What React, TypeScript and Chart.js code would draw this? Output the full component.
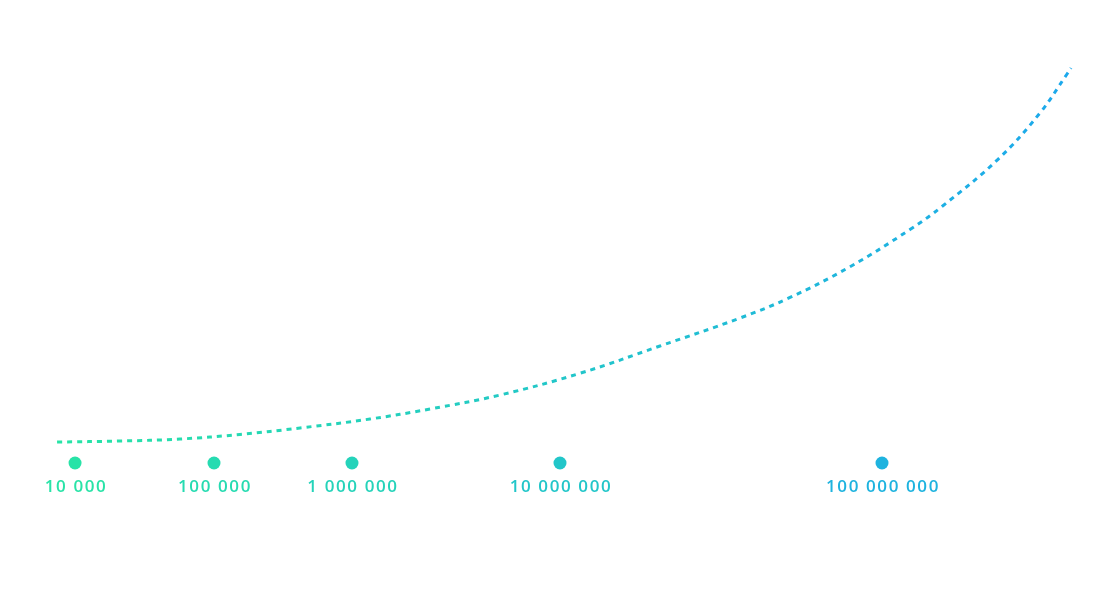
import React, { useEffect, useRef } from "react";
import { Chart, registerables } from "chart.js";

Chart.register(...registerables);

// Curve (arbitrary units, x: 0..100, y: 0..100)
const curveX = [5.14, 10.81, 16.22, 21.62, 27.03, 33.33, 38.74, 45.05, 52.25, 59.46, 66.67, 71.17, 76.58, 81.98, 84.95, 89.91, 93.69, 96.13, 96.49];
const curveY = [25.08, 25.25, 25.59, 26.36, 27.46, 28.98, 30.68, 33.05, 36.73, 41.36, 46.1, 49.58, 54.8, 61.1, 65.13, 73.0, 80.85, 87.46, 88.47];

// Milestones along the bottom
const milestoneLabels = ["10 000", "100 000", "1 000 000", "10 000 000", "100 000 000"];
const milestoneX = [6.76, 19.28, 31.71, 50.45, 79.46];
const milestoneLevel = 21.53;

const GREEN = [40, 228, 166];
const BLUE = [28, 168, 236];

function mix(t: number): string {
  const c = GREEN.map((g, i) => Math.round(g + (BLUE[i] - g) * t));
  return `rgb(${c[0]},${c[1]},${c[2]})`;
}

export default function App() {
  const ref = useRef<HTMLCanvasElement | null>(null);

  useEffect(() => {
    if (!ref.current) return;
    const startX = curveX[0];
    const endX = curveX[curveX.length - 1];
    const tOf = (x: number) => Math.max(0, Math.min(1, (x - startX) / (endX - startX)));

    const labelPlugin = {
      id: "milestoneLabels",
      afterDatasetsDraw(chart: any) {
        const meta = chart.getDatasetMeta(1);
        const ctx = chart.ctx;
        ctx.save();
        ctx.font = "600 17px 'Open Sans'";
        (ctx as any).letterSpacing = "1.6px";
        ctx.textAlign = "center";
        ctx.textBaseline = "middle";
        meta.data.forEach((pt: any, i: number) => {
          ctx.fillStyle = mix(tOf(milestoneX[i]));
          ctx.fillText(milestoneLabels[i], pt.x + 1, pt.y + 24);
        });
        ctx.restore();
      },
    };

    const chart = new Chart(ref.current, {
      type: "scatter",
      data: {
        datasets: [
          {
            type: "line",
            data: curveX.map((x, i) => ({ x, y: curveY[i] })),
            borderColor: (c: any) => {
              const { chart } = c;
              const area = chart.chartArea;
              if (!area) return mix(0.5);
              const xs = chart.scales.x;
              const g = chart.ctx.createLinearGradient(xs.getPixelForValue(startX), 0, xs.getPixelForValue(endX), 0);
              g.addColorStop(0, mix(0));
              g.addColorStop(0.5, mix(0.5));
              g.addColorStop(1, mix(1));
              return g;
            },
            borderWidth: 3,
            borderDash: [5, 5],
            pointRadius: 0,
            fill: false,
            tension: 0.4,
            showLine: true,
          } as any,
          {
            data: milestoneX.map((x) => ({ x, y: milestoneLevel })),
            pointRadius: 6.5,
            pointHoverRadius: 6.5,
            pointBorderWidth: 0,
            pointBackgroundColor: milestoneX.map((x) => mix(tOf(x))),
          },
        ],
      },
      options: {
        animation: false,
        responsive: false,
        maintainAspectRatio: false,
        layout: { padding: 0, autoPadding: false } as any,
        plugins: { legend: { display: false }, tooltip: { enabled: false } },
        scales: {
          x: { type: "linear", min: 0, max: 100, display: false },
          y: { type: "linear", min: 0, max: 100, display: false },
        },
      },
      plugins: [labelPlugin],
    });
    return () => chart.destroy();
  }, []);

  return (
    <div style={{ position: "fixed", left: 0, top: 0, width: 1110, height: 590, background: "#fff" }}>
      <canvas ref={ref} width={1110} height={590} style={{ width: 1110, height: 590, display: "block" }} />
    </div>
  );
}
